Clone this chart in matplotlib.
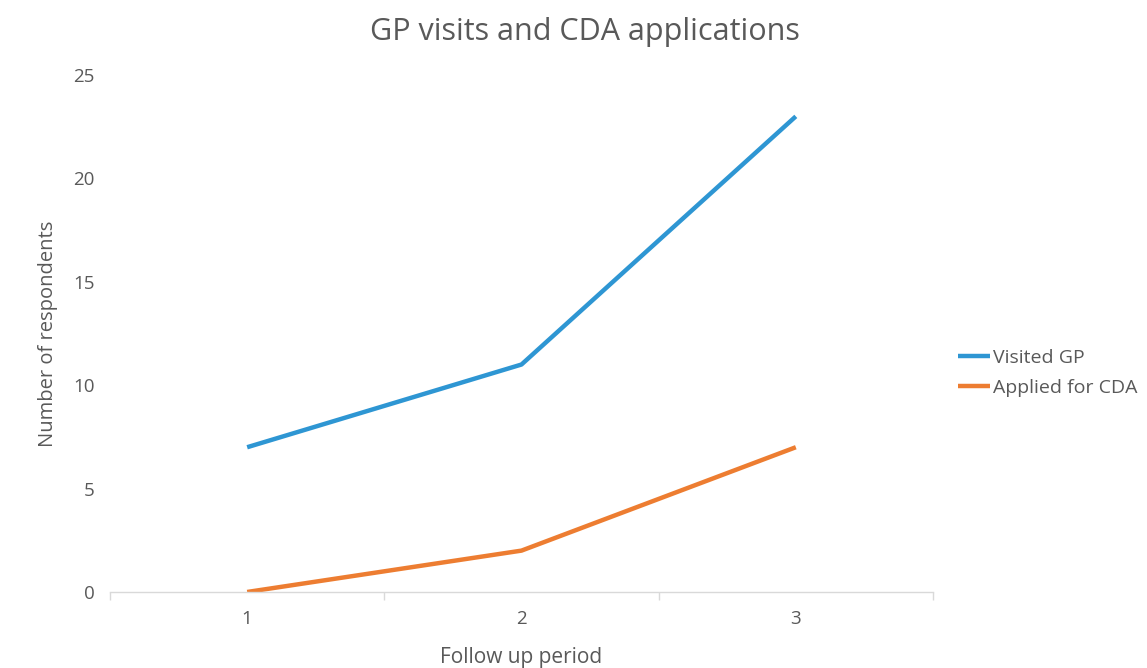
import numpy as np
import matplotlib.pyplot as plt

plt.rcParams['font.family'] = ['Open Sans', 'DejaVu Sans']

periods = ['1', '2', '3']
visited_gp = [7, 11, 23]
applied_cda = [0, 2, 7]

grey = '#595959'

fig = plt.figure(figsize=(11.47, 6.68), dpi=100)
ax = fig.add_axes([0.0959, 0.1138, 0.7175, 0.7739])

x = np.arange(1, len(periods) + 1)
ax.plot(x, visited_gp, color='#2E96D3', lw=3.2, label='Visited GP', solid_capstyle='butt')
ax.plot(x, applied_cda, color='#ED7D31', lw=3.2, label='Applied for CDA', solid_capstyle='butt')

ax.set_xlim(0.5, len(periods) + 0.5)
ax.set_ylim(0, 25)
ax.set_yticks(range(0, 26, 5))
ax.set_xticks(x)
ax.set_xticklabels(periods)
ax.set_xticks(np.arange(0.5, len(periods) + 1, 1), minor=True)

for s in ['top', 'right', 'left']:
    ax.spines[s].set_visible(False)
ax.spines['bottom'].set_color('#d9d9d9')
ax.spines['bottom'].set_linewidth(1)

ax.tick_params(axis='y', length=0, pad=11, labelsize=13.5, labelcolor=grey)
ax.tick_params(axis='x', which='major', length=0, pad=13, labelsize=13.5, labelcolor=grey)
ax.tick_params(axis='x', which='minor', length=6, color='#d9d9d9', width=1)

ax.set_ylabel('Number of respondents', fontsize=14.5, color=grey, labelpad=11)
fig.text(0.454, 0.015, 'Follow up period', fontsize=15, color=grey, ha='center', va='center')
fig.text(0.51, 0.952, 'GP visits and CDA applications', fontsize=22, color=grey, ha='center', va='center')

leg = fig.legend(loc='center left', bbox_to_anchor=(0.82, 0.4416), frameon=False,
                 fontsize=14, handlelength=1.65, handletextpad=0.15, labelspacing=0.6)
for t in leg.get_texts():
    t.set_color(grey)

fig.savefig('out.png', dpi=100)
